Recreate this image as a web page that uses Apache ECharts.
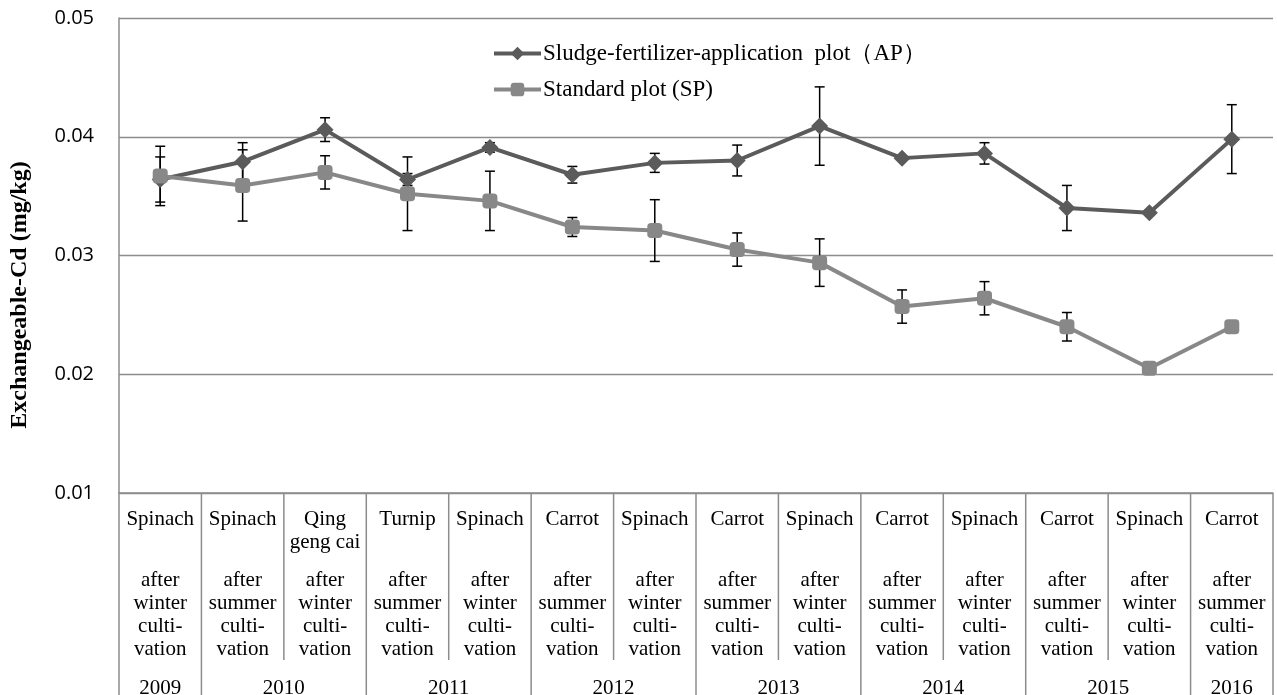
<!DOCTYPE html>
<html><head><meta charset="utf-8">
<script src="https://cdn.jsdelivr.net/npm/echarts@6/dist/echarts.min.js"></script>
<style>html,body{margin:0;padding:0;background:#fff}#c{width:1277px;height:695px}</style>
</head><body><div id="c"></div>
<script>
// ---- data ----
const crops = ['Spinach','Spinach','Qing\ngeng cai','Turnip','Spinach','Carrot','Spinach','Carrot','Spinach','Carrot','Spinach','Carrot','Spinach','Carrot'];
const seasons = ['winter','summer','winter','summer','winter','summer','winter','summer','winter','summer','winter','summer','winter','summer'];
const years = ['2009','2010','2011','2012','2013','2014','2015','2016'];
const yearSpans = [1,2,2,2,2,2,2,1];
const apName = 'Sludge-fertilizer-application  plot（AP）';
const spName = 'Standard plot (SP)';
const apValues = [0.0364,0.0379,0.0406,0.0364,0.0391,0.0368,0.0378,0.0380,0.0409,0.0382,0.0386,0.0340,0.0336,0.0398];
const apErrors = [0.0019,0.0016,0.0010,0.0005,0.0004,0.0007,0.0008,0.0013,0.0033,0.0002,0.0009,0.0019,0.0002,0.0029];
const spValues = [0.0367,0.0359,0.0370,0.0352,0.0346,0.0324,0.0321,0.0305,0.0294,0.0257,0.0264,0.0240,0.0205,0.0240];
const spErrors = [0.0025,0.0030,0.0014,0.0031,0.0025,0.0008,0.0026,0.0014,0.0020,0.0014,0.0014,0.0012,0,0];
const yMin = 0.01, yMax = 0.05, yStep = 0.01;
const yTitle = 'Exchangeable-Cd (mg/kg)';

// ---- styles ----
const SERIF = '"Liberation Serif","Times New Roman",serif';
const GRID_GRAY = '#8c8c8c';
const AP_COLOR = '#5b5b5b';
const SP_COLOR = '#888888';
const TABLE_H = 202, INNER_H = 167;

const cats = crops.map((c, i) => String(i));

function catLabel(v, i) {
  const cl = crops[i].split('\n');
  while (cl.length < 2) cl.push(' ');
  const lines = cl.map(t => '{c|' + t + '}');
  lines.push('{s| }');
  ['after', seasons[i], 'culti-', 'vation'].forEach(t => lines.push('{c|' + t + '}'));
  return lines.join('\n');
}

// table boundaries & year centers
const yearBoundary = new Set([0]);
const yearCenters = [];
let acc = 0;
yearSpans.forEach((s, k) => { yearCenters.push([acc + s / 2, years[k]]); acc += s; yearBoundary.add(acc); });
const tableLines = [];
for (let k = 0; k <= crops.length; k++) tableLines.push([k, yearBoundary.has(k) ? TABLE_H : INNER_H]);

function errData(vals, errs) { return vals.map((v, i) => [i, v, errs[i]]); }
function renderErr(params, api) {
  const x = api.value(0), v = api.value(1), e = api.value(2);
  if (!e) return null;
  const t = api.coord([x, v + e]), b = api.coord([x, v - e]);
  const hw = 5, st = { stroke: '#000', lineWidth: 1.5 };
  return { type: 'group', children: [
    { type: 'line', shape: { x1: t[0], y1: t[1], x2: b[0], y2: b[1] }, style: st },
    { type: 'line', shape: { x1: t[0] - hw, y1: t[1], x2: t[0] + hw, y2: t[1] }, style: st },
    { type: 'line', shape: { x1: b[0] - hw, y1: b[1], x2: b[0] + hw, y2: b[1] }, style: st }
  ]};
}

const chart = echarts.init(document.getElementById('c'), null, { renderer: 'canvas' });
chart.setOption({
  animation: false,
  backgroundColor: '#fff',
  grid: [
    { left: 119, right: 4, top: 18, bottom: 202, containLabel: false },
    { left: 119, right: 4, top: 493, bottom: 0, containLabel: false }
  ],
  legend: {
    orient: 'vertical', left: 487, top: 37, itemGap: 13,
    itemWidth: 47, itemHeight: 17,
    lineStyle: { width: 4 },
    textStyle: { fontFamily: SERIF, fontSize: 23, color: '#000', padding: [0, 0, 0, -3] },
    data: [apName, spName]
  },
  xAxis: [
    { gridIndex: 0, type: 'category', data: cats, boundaryGap: true,
      axisLine: { show: true, lineStyle: { color: GRID_GRAY, width: 1.5 } },
      axisTick: { show: false },
      axisLabel: { interval: 0, margin: 14.5, formatter: catLabel, color: '#000',
        rich: {
          c: { fontFamily: SERIF, fontSize: 21, lineHeight: 23, color: '#000', align: 'center' },
          s: { fontFamily: SERIF, fontSize: 10, lineHeight: 15 }
        } },
      splitLine: { show: false } },
    { gridIndex: 1, type: 'value', min: 0, max: crops.length, show: false }
  ],
  yAxis: [
    { gridIndex: 0, type: 'value', min: yMin, max: yMax, interval: yStep,
      axisLine: { show: true, lineStyle: { color: GRID_GRAY, width: 1.5 } },
      axisTick: { show: false },
      axisLabel: { margin: 25, color: '#000', fontFamily: '"Open Sans","DejaVu Sans",sans-serif', fontSize: 20,
        formatter: v => v.toFixed(2) },
      splitLine: { show: true, lineStyle: { color: GRID_GRAY, width: 1.3 } } },
    { gridIndex: 1, type: 'value', min: 0, max: TABLE_H, inverse: true, show: false }
  ],
  graphic: [
    { type: 'text', x: 20, y: 295, rotation: Math.PI / 2,
      style: { text: yTitle, align: 'center', verticalAlign: 'middle',
        font: 'bold 24px ' + SERIF, fill: '#000' } }
  ],
  series: [
    { type: 'custom', name: 'apErr', xAxisIndex: 0, yAxisIndex: 0, z: 1,
      data: errData(apValues, apErrors), renderItem: renderErr, silent: true },
    { type: 'custom', name: 'spErr', xAxisIndex: 0, yAxisIndex: 0, z: 1,
      data: errData(spValues, spErrors), renderItem: renderErr, silent: true },
    { type: 'line', name: apName, data: apValues, xAxisIndex: 0, yAxisIndex: 0, z: 3,
      symbol: 'diamond', symbolSize: [17, 17], showAllSymbol: true,
      lineStyle: { color: AP_COLOR, width: 4 }, itemStyle: { color: AP_COLOR } },
    { type: 'line', name: spName, data: spValues, xAxisIndex: 0, yAxisIndex: 0, z: 4,
      symbol: 'roundRect', symbolSize: 15, showAllSymbol: true,
      lineStyle: { color: SP_COLOR, width: 4 }, itemStyle: { color: SP_COLOR } },
    { type: 'custom', name: 'tableLines', xAxisIndex: 1, yAxisIndex: 1, silent: true,
      data: tableLines,
      renderItem: (p, api) => {
        const a = api.coord([api.value(0), 0]), b = api.coord([api.value(0), api.value(1)]);
        return { type: 'line', shape: { x1: a[0], y1: a[1], x2: b[0], y2: b[1] },
          style: { stroke: GRID_GRAY, lineWidth: 1.5 } };
      } },
    { type: 'custom', name: 'yearLabels', xAxisIndex: 1, yAxisIndex: 1, silent: true,
      data: yearCenters,
      renderItem: (p, api) => {
        const pt = api.coord([api.value(0), 195]);
        return { type: 'text', x: pt[0], y: pt[1],
          style: { text: yearCenters[p.dataIndex][1], align: 'center', verticalAlign: 'middle',
            fontFamily: SERIF, fontSize: 21, fill: '#000' } };
      } }
  ]
});
</script></body></html>
